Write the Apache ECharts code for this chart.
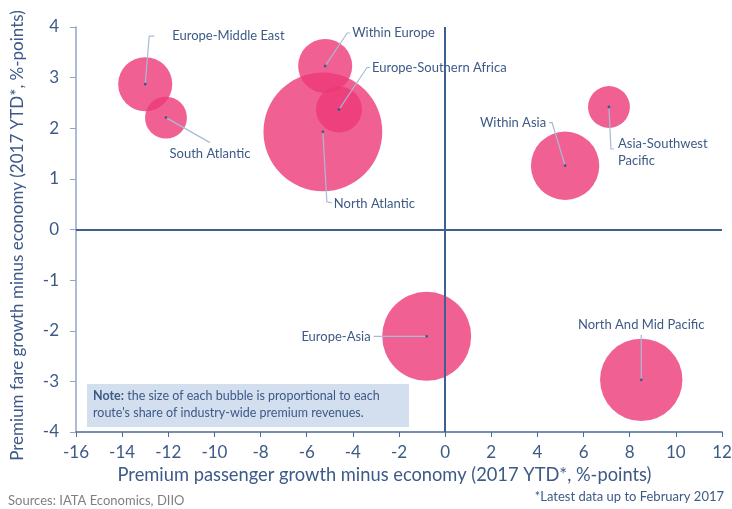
<!DOCTYPE html>
<html lang="en">
<head>
<meta charset="UTF-8">
<title>Premium vs economy growth by route</title>
<script src="https://cdn.jsdelivr.net/npm/echarts@6/dist/echarts.min.js"></script>
<style>
    html, body { margin: 0; padding: 0; background: #fff; }
    #chart { width: 732px; height: 509px; }
</style>
</head>
<body>
<div id="chart"></div>
<script>
    // route data
    var routes = ['Europe-Middle East', 'South Atlantic', 'Within Europe', 'Europe-Southern Africa',
        'North Atlantic', 'Within Asia', 'Asia-Southwest\nPacific', 'Europe-Asia', 'North And Mid Pacific'];
    var paxGrowth  = [-13.0, -12.1, -5.2, -4.6, -5.3, 5.2, 7.1, -0.8, 8.5];
    var fareGrowth = [2.87, 2.21, 3.23, 2.37, 1.93, 1.26, 2.42, -2.11, -2.97];
    var revShare   = [6.5, 3.9, 6.5, 4.7, 31.4, 10.4, 3.9, 17.6, 15.1];   // % of premium revenues
    var xTicks = [-16, -14, -12, -10, -8, -6, -4, -2, 0, 2, 4, 6, 8, 10, 12];
    var yTicks = [-4, -3, -2, -1, 0, 1, 2, 3, 4];

    // label placement, pixel offsets from the bubble centre
    var labelLayout = [
        { line: [[4, -48], [9, -48]],   text: [27, -48],  align: 'left' },
        { line: [[44, 25]],             text: [44, 36],   align: 'center' },
        { line: [[22, -33], [25, -33]], text: [27, -33],  align: 'left' },
        { line: [[28, -42], [31, -42]], text: [33, -42],  align: 'left' },
        { line: [[4, 70], [9, 71]],     text: [11, 72],   align: 'left' },
        { line: [[-13, -43], [-16, -43]], text: [-19, -43], align: 'right' },
        { line: [[2, 42], [5, 42]],     text: [9, 45],    align: 'left' },
        { line: [[-53, 0]],             text: [-56, 0],   align: 'right' },
        { line: [[0, -45]],             text: [0, -55],   align: 'center' }
    ];

    var textColor = '#3D5A87';
    var fontFamily = 'Lato, "Open Sans", sans-serif';

    var points = [];
    for (var i = 0; i < routes.length; i++) {
        points.push([paxGrowth[i], fareGrowth[i], revShare[i]]);
    }

    var chart = echarts.init(document.getElementById('chart'));
    var option = {
        animation: false,
        textStyle: { fontFamily: fontFamily },
        grid: { left: 76, right: 10, top: 27, bottom: 77, containLabel: false, outerBoundsMode: 'none' },
        xAxis: {
            type: 'value',
            min: xTicks[0], max: xTicks[xTicks.length - 1], interval: 2,
            name: 'Premium passenger growth minus economy (2017 YTD*, %-points)',
            nameLocation: 'middle', nameGap: 33,
            nameTextStyle: { color: textColor, fontSize: 18.3, fontFamily: fontFamily, padding: [0, 29, 0, 0] },
            axisLine: { onZero: false, lineStyle: { color: '#4A6A98', width: 1.5 } },
            axisTick: { show: true, length: 5, lineStyle: { color: '#4A6A98' } },
            axisLabel: { color: textColor, fontSize: 17, margin: 12 },
            splitLine: { show: false }
        },
        yAxis: {
            type: 'value',
            min: yTicks[0], max: yTicks[yTicks.length - 1], interval: 1,
            name: 'Premium fare growth minus economy (2017 YTD*, %-points)',
            nameLocation: 'middle', nameGap: 50,
            nameTextStyle: { color: textColor, fontSize: 17, fontFamily: fontFamily, padding: [0, 12, 0, 0] },
            axisLine: { show: true, onZero: false, lineStyle: { color: '#8FA5C6', width: 1.5 } },
            axisTick: { show: true, inside: false, length: 6, lineStyle: { color: '#8FA5C6' } },
            axisLabel: { color: textColor, fontSize: 17, margin: 17 },
            splitLine: { show: false }
        },
        series: [
            {
                type: 'scatter',
                data: [],
                silent: true,
                markLine: {
                    silent: true,
                    symbol: 'none',
                    label: { show: false },
                    lineStyle: { color: '#3E5F8F', width: 2, type: 'solid' },
                    data: [{ xAxis: 0 }, { yAxis: 0 }]
                }
            },
            {
                type: 'scatter',
                data: points,
                symbolSize: function (v) { return Math.sqrt(v[2]) * 21.2; },
                itemStyle: { color: 'rgb(236,56,119)', opacity: 0.8 },
                z: 3
            },
            {
                type: 'custom',
                data: points,
                z: 4,
                renderItem: function (params, api) {
                    var i = params.dataIndex;
                    var c = api.coord([api.value(0), api.value(1)]);
                    var L = labelLayout[i];
                    var pts = [c];
                    L.line.forEach(function (p) { pts.push([c[0] + p[0], c[1] + p[1]]); });
                    return {
                        type: 'group',
                        children: [
                            { type: 'polyline', shape: { points: pts },
                              style: { stroke: '#A9BBD6', lineWidth: 1.2, fill: null } },
                            { type: 'circle', shape: { cx: c[0], cy: c[1], r: 1.4 },
                              style: { fill: '#3D5A87' } },
                            { type: 'text', x: c[0] + L.text[0], y: c[1] + L.text[1],
                              style: { text: routes[i], fill: textColor, font: '13px ' + fontFamily,
                                       align: L.align, verticalAlign: 'middle', lineHeight: 17 } }
                        ]
                    };
                }
            }
        ],
        graphic: [
            { type: 'rect', left: 87, top: 384, shape: { width: 322, height: 43 },
              style: { fill: '#D3DEEE' } },
            { type: 'text', left: 93, top: 387,
              style: {
                  text: '{b|Note:} the size of each bubble is proportional to each\nroute\'s share of industry-wide premium revenues.',
                  rich: {
                      b: { fontWeight: 'bold', fill: textColor, fontSize: 12.5, fontFamily: fontFamily, lineHeight: 17 }
                  },
                  fill: textColor, font: '12.5px ' + fontFamily, lineHeight: 17
              } },
            { type: 'text', left: 8, top: 494,
              style: { text: 'Sources: IATA Economics, DIIO', fill: '#808080', font: '13px ' + fontFamily } },
            { type: 'text', right: 8, top: 490,
              style: { text: '*Latest data up to February 2017', fill: textColor, font: '13px ' + fontFamily } }
        ]
    };
    chart.setOption(option);
</script>
</body>
</html>
